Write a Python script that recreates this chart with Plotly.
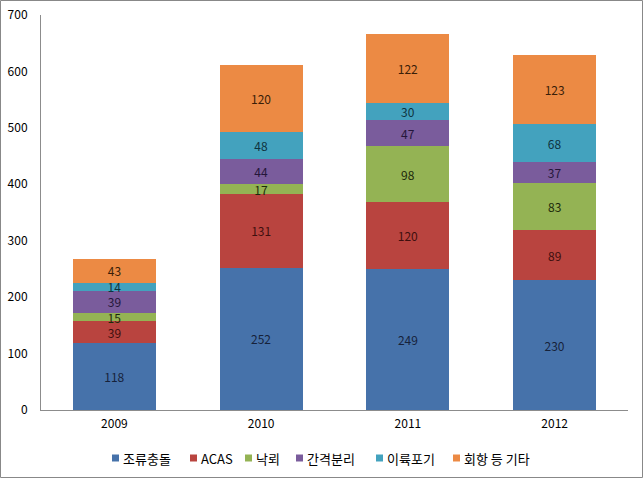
import plotly.graph_objects as go

years = ["2009", "2010", "2011", "2012"]
series_names = ["조류충돌", "ACAS", "낙뢰", "간격분리", "이륙포기", "회항 등 기타"]
bird_strike = [118, 252, 249, 230]
acas = [39, 131, 120, 89]
lightning = [15, 17, 98, 83]
separation = [39, 44, 47, 37]
takeoff_abort = [14, 48, 30, 68]
divert_etc = [43, 120, 122, 123]
y_ticks = [0, 100, 200, 300, 400, 500, 600, 700]

series_values = [bird_strike, acas, lightning, separation, takeoff_abort, divert_etc]
colors = ["#4672AA", "#B9443F", "#94B354", "#7A5C9C", "#43A2BE", "#EC8A44"]
label_colors = ["#16223A", "#3E0F0E", "#1C2A0A", "#24163A", "#0E3340", "#3A1E08"]

FONT = "Noto Sans CJK KR, Malgun Gothic, sans-serif"

fig = go.Figure()
for name, vals, col, lc in zip(series_names, series_values, colors, label_colors):
    fig.add_trace(go.Bar(
        x=years, y=vals, name=name,
        marker=dict(color=col, line=dict(width=0)),
        text=[str(v) for v in vals],
        textposition="inside",
        insidetextanchor="middle",
        textangle=0,
        constraintext="none",
        textfont=dict(family=FONT, size=12, color=lc),
        showlegend=False,
    ))

W, H = 643, 478
L, R, T, B = 41, 15, 15, 68
pw, ph = W - L - R, H - T - B


def px_x(x):
    return (x - L) / pw


def px_y(y):
    return (H - B - y) / ph


shapes = [dict(
    type="rect", xref="paper", yref="paper",
    x0=px_x(0.5), x1=px_x(W - 0.5),
    y0=px_y(H - 0.5), y1=px_y(0.5),
    line=dict(color="#888888", width=1),
    fillcolor="rgba(0,0,0,0)",
    layer="above",
)]
annotations = []

# custom compact legend (Excel style)
legend_x = [112, 190, 245, 296, 376, 453]
legend_y = 458
for lx, name, col in zip(legend_x, series_names, colors):
    shapes.append(dict(
        type="rect", xref="paper", yref="paper",
        x0=px_x(lx), x1=px_x(lx + 7),
        y0=px_y(legend_y + 3.5), y1=px_y(legend_y - 3.5),
        line=dict(width=0), fillcolor=col, layer="above",
    ))
    annotations.append(dict(
        xref="paper", yref="paper",
        x=px_x(lx + 9), y=px_y(legend_y),
        xanchor="left", yanchor="middle",
        text=name, showarrow=False,
        font=dict(family=FONT, size=13, color="black"),
    ))

fig.update_layout(
    width=W, height=H,
    barmode="stack",
    bargap=0.434,
    margin=dict(l=L, r=R, t=T, b=B, pad=0, autoexpand=False),
    paper_bgcolor="white",
    plot_bgcolor="white",
    font=dict(family=FONT, size=12, color="black"),
    uniformtext=dict(minsize=12, mode="show"),
    showlegend=False,
    xaxis=dict(
        showgrid=False, zeroline=False,
        showline=True, linecolor="#8C8C8C", linewidth=1,
        ticks="", tickfont=dict(family=FONT, size=12, color="black"),
        ticklabelstandoff=3,
    ),
    yaxis=dict(
        range=[0, 700], tickvals=y_ticks,
        showgrid=False, zeroline=False,
        showline=True, linecolor="#8C8C8C", linewidth=1,
        ticks="", tickfont=dict(family=FONT, size=12, color="black"),
        ticklabelstandoff=10,
    ),
    shapes=shapes,
    annotations=annotations,
)

fig.write_html("out.html")
